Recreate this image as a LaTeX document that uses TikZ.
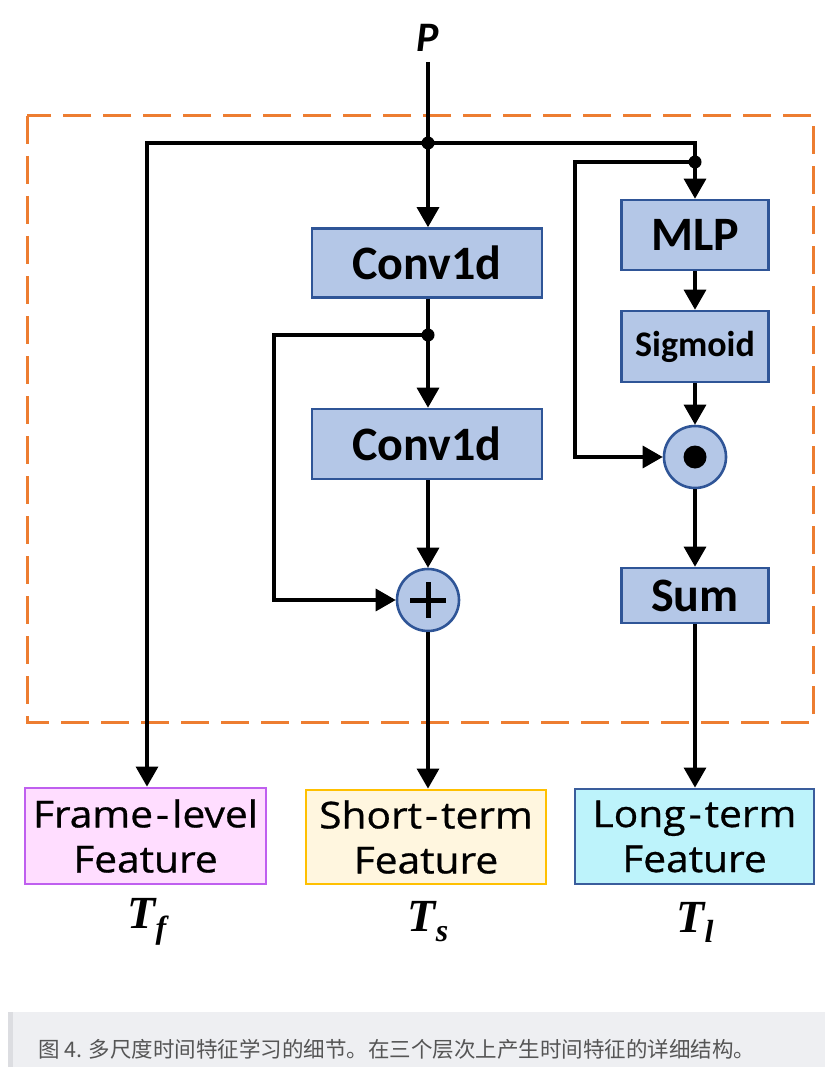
\documentclass[tikz,border=0pt]{standalone}
\usepackage{fontspec}
\usetikzlibrary{arrows.meta,calc}
\setmainfont{Carlito}
\newfontfamily\featfont{Open Sans}[FakeStretch=1.1,FakeBold=0.8]
\newfontfamily\tfont{Liberation Serif}
\newfontfamily\cjk{Noto Sans CJK SC}
\definecolor{boxfill}{HTML}{B4C7E7}
\definecolor{boxdraw}{HTML}{2F5597}
\definecolor{dashor}{HTML}{ED7D31}
\definecolor{pinkfill}{HTML}{FFDDFF}
\definecolor{pinkdraw}{HTML}{BF5FEF}
\definecolor{yelfill}{HTML}{FFF6DF}
\definecolor{yeldraw}{HTML}{FFC000}
\definecolor{cyanfill}{HTML}{BDF3FB}
\definecolor{cyandraw}{HTML}{3A5D9C}
\definecolor{capbg}{HTML}{EEEFF2}
\definecolor{capbar}{HTML}{DCDDE1}
\definecolor{captext}{HTML}{555555}
\tikzset{
  opbox/.style={draw=boxdraw, fill=boxfill, line width=2.6pt, inner sep=0pt, font=\bfseries\fontsize{48}{50}\selectfont},
  opcirc/.style={circle, draw=boxdraw, fill=boxfill, line width=2.6pt, inner sep=0pt, minimum size=62pt},
  featbox/.style={line width=2.8pt, inner sep=0pt, align=center, font=\featfont\fontsize{37}{45}\selectfont},
  conn/.style={line width=3.2pt, black},
  arr/.style={conn, -{Triangle[width=22pt,length=20pt]}},
  jdot/.style={circle, fill=black, inner sep=0pt, minimum size=13pt},
  tlabel/.style={font=\tfont\bfseries\itshape\fontsize{46}{46}\selectfont, inner sep=0pt}
}
\newcommand{\tsub}[1]{\raisebox{-10pt}{\fontsize{32}{32}\selectfont #1}}
\begin{document}
\begin{tikzpicture}[x=1pt,y=-1pt]
\useasboundingbox (0,0) rectangle (825,1067);
\fill[white] (0,0) rectangle (825,1067);
% dashed frame
\draw[dashor, line width=3pt, dash pattern=on 28pt off 12pt] (27,116) rectangle (813,722);
% P input
\node[font=\bfseries\itshape\fontsize{42}{42}\selectfont, inner sep=0pt] (P) at (428,38) {P};
\coordinate (pin) at (428,62);
% junctions
\node[jdot] (j1) at (428,143) {};
\node[jdot] (j2) at (428,335) {};
\node[jdot] (j3) at (695,162) {};
% middle column
\node[opbox, minimum width=230pt, minimum height=69pt] (c1) at (427,263) {Conv1d};
\node[opbox, minimum width=230pt, minimum height=70pt] (c2) at (427,444) {Conv1d};
\node[opcirc] (plus) at (428,600) {};
\draw[line width=5pt, line cap=butt] ($(plus.center)+(-18,0)$) -- ($(plus.center)+(18,0)$);
\draw[line width=5pt, line cap=butt] ($(plus.center)+(0,-18)$) -- ($(plus.center)+(0,18)$);
% right column
\node[opbox, minimum width=147pt, minimum height=70pt] (mlp) at (695,235) {MLP};
\node[opbox, minimum width=147pt, minimum height=71pt, font=\bfseries\fontsize{36}{38}\selectfont] (sig) at (695,346.5) {Sigmoid};
\node[opcirc] (odot) at (695,457) {};
\node[circle, fill=black, inner sep=0pt, minimum size=23pt] (odotc) at (odot.center) {};
\node[opbox, minimum width=147pt, minimum height=55pt] (sum) at (695,595.5) {Sum};
% feature boxes
\node[featbox, draw=pinkdraw, fill=pinkfill, minimum width=241pt, minimum height=96pt] (ff) at (145.5,836) {Frame\kern3pt-\kern3pt level\\Feature};
\node[featbox, draw=yeldraw, fill=yelfill, minimum width=240pt, minimum height=94pt] (sf) at (426,837) {Short\kern3pt-\kern3pt term\\Feature};
\node[featbox, draw=cyandraw, fill=cyanfill, minimum width=239pt, minimum height=95pt] (lf) at (694.5,836.5) {Long\kern3pt-\kern3pt term\\Feature};
% T labels
\node[tlabel] (tf) at (147,922) {T\tsub{f}};
\node[tlabel] (ts) at (428,922) {T\tsub{s}};
\node[tlabel] (tl) at (695,922) {T\tsub{l}};
% connectors
\draw[conn] (pin) -- (j1.center);
\draw[arr] (j1.center) -- (c1.north -| j1);
\draw[conn] (j1.center) -- (j1 -| j3) -- (j3.center);
\draw[arr] (j1.center) -- (147,143) -- (ff.north -| 147,0);
\draw[arr] (j3.center) -- (mlp.north);
\draw[arr] (j3.center) -- (575,162) -- (575,457) -- (odot.west);
\draw[conn] (c1.south -| j2) -- (j2.center);
\draw[arr] (j2.center) -- (c2.north -| j2);
\draw[arr] (j2.center) -- (274,335) -- (274,600) -- (plus.west);
\draw[arr] (c2.south -| plus) -- (plus.north);
\draw[arr] (plus.south) -- (sf.north -| plus);
\draw[arr] (mlp.south) -- (sig.north);
\draw[arr] (sig.south) -- (odot.north);
\draw[arr] (odot.south) -- (sum.north);
\draw[arr] (sum.south) -- (lf.north -| sum);
% caption
\fill[capbg] (8,1012) rectangle (825,1067);
\fill[capbar] (8,1012) rectangle (13,1067);
\node[anchor=west, inner sep=0pt, text=captext, font=\cjk\fontsize{21.5}{21.5}\selectfont] (cap) at (38,1049) {图 4. 多尺度时间特征学习的细节。在三个层次上产生时间特征的详细结构。};
\end{tikzpicture}
\end{document}
